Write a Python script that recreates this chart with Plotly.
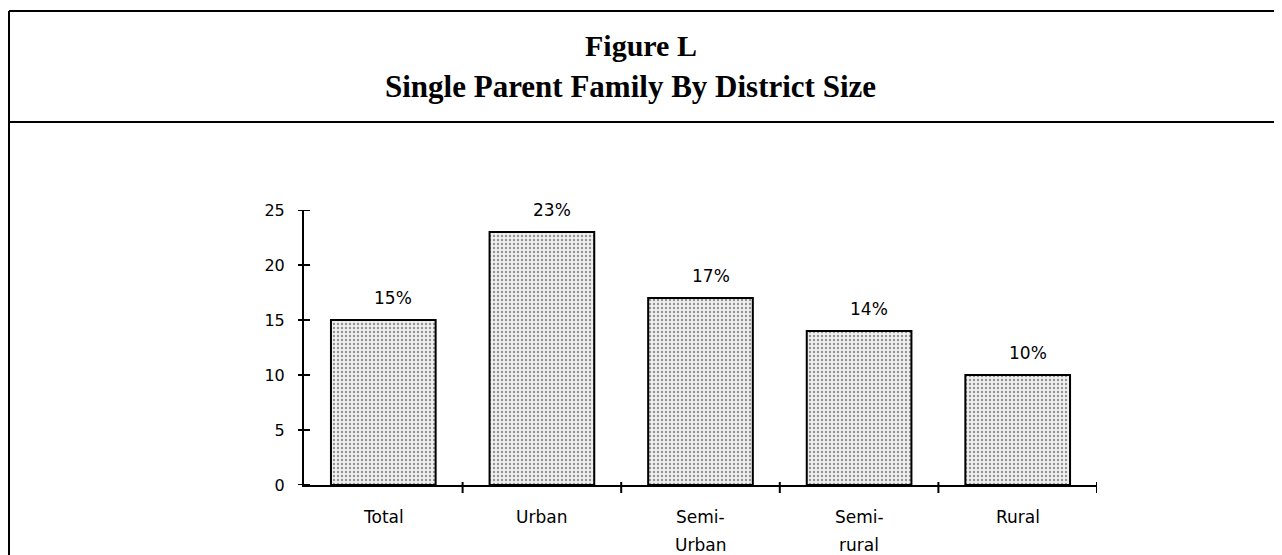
import plotly.graph_objects as go

category_lines = [["Total"], ["Urban"], ["Semi-", "Urban"], ["Semi-", "rural"], ["Rural"]]
values = [15, 23, 17, 14, 10]
value_labels = ["15%", "23%", "17%", "14%", "10%"]
y_ticks = [0, 5, 10, 15, 20, 25]
title_line1 = "Figure L"
title_line2 = "Single Parent Family By District Size"

# figure is placed at an 8px page margin, so work in figure coordinates
W, H = 1274, 547
L, R, T, B = 296, 185, 202, 70
pw, ph = W - L - R, H - T - B
n = len(category_lines)


def px_x(px):
    return (px - L) / pw


def px_y(py):
    return (H - B - py) / ph


fig = go.Figure()
fig.add_trace(go.Bar(
    x=list(range(n)),
    y=values,
    width=0.66,
    marker=dict(
        color="white",
        line=dict(color="black", width=2),
        pattern=dict(shape=".", fgcolor="#333333", bgcolor="#f0f0f0",
                     size=4, solidity=0.27),
    ),
    hoverinfo="skip",
))

# value labels above bars
for i, (v, lab) in enumerate(zip(values, value_labels)):
    fig.add_annotation(x=i, y=v, text=lab, showarrow=False, xref="x", yref="y",
                       yanchor="middle", yshift=22, xshift=10,
                       font=dict(family="DejaVu Sans", size=17, color="black"))

# category labels (two-line labels with wide line spacing)
for i, lines in enumerate(category_lines):
    for j, line in enumerate(lines):
        fig.add_annotation(x=i, y=0, text=line, showarrow=False, xref="x", yref="paper",
                           yanchor="middle", yshift=-32 - 28 * j,
                           font=dict(family="DejaVu Sans", size=17, color="black"))

shapes = []
# y-axis crossing ticks
for v in y_ticks:
    shapes.append(dict(type="line", xref="paper", yref="y", x0=-6 / pw, x1=6 / pw,
                       y0=v, y1=v, line=dict(color="black", width=2)))
# x-axis ticks at category boundaries
for k in range(n):
    shapes.append(dict(type="line", xref="x", yref="paper", x0=k + 0.5, x1=k + 0.5,
                       y0=-8 / ph, y1=3 / ph, line=dict(color="black", width=2)))

# frame
frame = dict(color="black", width=2)
shapes += [
    dict(type="line", xref="paper", yref="paper", x0=px_x(1), x1=px_x(1274),
         y0=px_y(3), y1=px_y(3), line=frame),
    dict(type="line", xref="paper", yref="paper", x0=px_x(1), x1=px_x(1274),
         y0=px_y(114), y1=px_y(114), line=frame),
    dict(type="line", xref="paper", yref="paper", x0=px_x(1), x1=px_x(1),
         y0=px_y(3), y1=px_y(547), line=frame),
    dict(type="line", xref="paper", yref="paper", x0=px_x(1272), x1=px_x(1272),
         y0=px_y(3), y1=px_y(240), line=frame),
]

fig.add_annotation(x=px_x(633), y=px_y(38), xref="paper", yref="paper",
                   text="<b>" + title_line1 + "</b>", showarrow=False,
                   xanchor="center", yanchor="middle",
                   font=dict(family="Liberation Serif", size=30, color="black"))
fig.add_annotation(x=px_x(622), y=px_y(78), xref="paper", yref="paper",
                   text="<b>" + title_line2 + "</b>", showarrow=False,
                   xanchor="center", yanchor="middle",
                   font=dict(family="Liberation Serif", size=31, color="black"))

fig.update_layout(
    width=W, height=H,
    margin=dict(l=L, r=R, t=T, b=B),
    paper_bgcolor="white", plot_bgcolor="white",
    showlegend=False,
    shapes=shapes,
    font=dict(family="DejaVu Sans", color="black"),
)
fig.update_xaxes(
    range=[-0.5, n - 0.5],
    tickmode="array", tickvals=list(range(n)),
    showticklabels=False,
    ticks="", showgrid=False, zeroline=False,
    showline=True, linecolor="black", linewidth=2,
)
fig.update_yaxes(
    range=[0, 25],
    tickmode="array", tickvals=y_ticks, ticktext=[str(v) for v in y_ticks],
    ticks="", showgrid=False, zeroline=False,
    showline=True, linecolor="black", linewidth=2,
    tickfont=dict(family="DejaVu Sans", size=16, color="black"),
    ticklabelstandoff=14,
)

fig.write_html("out.html")
